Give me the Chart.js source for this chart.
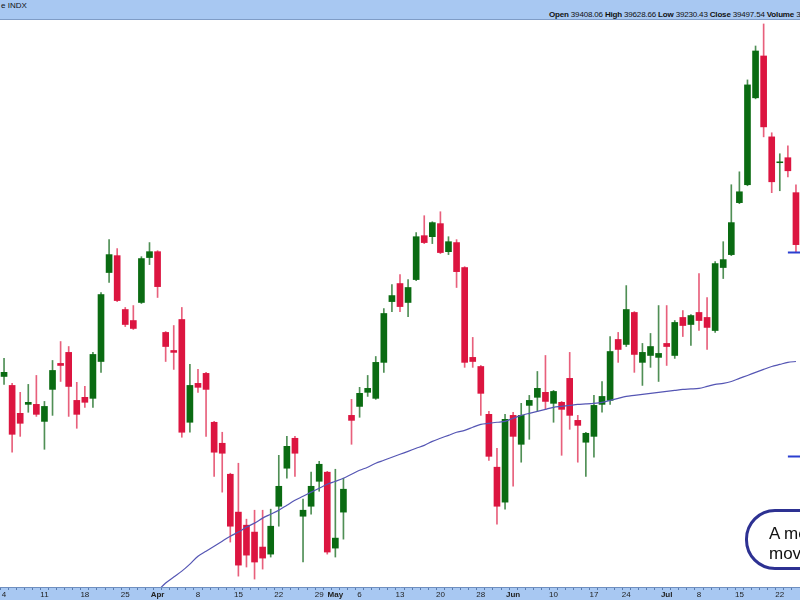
<!DOCTYPE html>
<html>
<head>
<meta charset="utf-8">
<script src="https://cdn.jsdelivr.net/npm/chart.js@4.4.1/dist/chart.umd.min.js"></script>
<style>
  body { margin: 0; background: #fff; overflow: hidden; }
  #wrap { position: relative; width: 800px; height: 600px; overflow: hidden; }
  #head { position: absolute; left: 0; top: 0; width: 800px; height: 19px; background: #a8c8f2;
          border-bottom: 1px solid #7f9cc6; font-family: "Liberation Sans", Arial, sans-serif; font-size: 8px; color: #111; }
  #head .t { position: absolute; left: 1px; top: 1px; }
  #head .q { position: absolute; left: 549px; top: 10px; white-space: nowrap; letter-spacing: -0.17px; }
  #head b { font-weight: bold; }
  #note { position: absolute; left: 745px; top: 509px; width: 160px; height: 61px; border: 3px solid #2d3192;
          border-radius: 30px; background: #fff; font-family: "Liberation Sans", Arial, sans-serif; font-size: 17px;
          line-height: 20px; color: #111; padding: 12px 0 0 21px; box-sizing: border-box; }
</style>
</head>
<body>
<div id="wrap">
  <canvas id="myChart" width="800" height="600"></canvas>
  <div id="head">
    <span class="t">e INDX</span>
    <span class="q"><b>Open</b> 39408.06 <b>High</b> 39628.66 <b>Low</b> 39230.43 <b>Close</b> 39497.54 <b>Volume</b> 3</span>
  </div>
  <div id="note">A medium<br>moving</div>
</div>
<script>
const dates = [
  '2024-03-04','2024-03-05','2024-03-06','2024-03-07','2024-03-08','2024-03-11','2024-03-12','2024-03-13','2024-03-14','2024-03-15',
  '2024-03-18','2024-03-19','2024-03-20','2024-03-21','2024-03-22','2024-03-25','2024-03-26','2024-03-27','2024-03-28',
  '2024-04-01','2024-04-02','2024-04-03','2024-04-04','2024-04-05','2024-04-08','2024-04-09','2024-04-10','2024-04-11','2024-04-12',
  '2024-04-15','2024-04-16','2024-04-17','2024-04-18','2024-04-19','2024-04-22','2024-04-23','2024-04-24','2024-04-25','2024-04-26',
  '2024-04-29','2024-04-30',
  '2024-05-01','2024-05-02','2024-05-03','2024-05-06','2024-05-07','2024-05-08','2024-05-09','2024-05-10','2024-05-13','2024-05-14',
  '2024-05-15','2024-05-16','2024-05-17','2024-05-20','2024-05-21','2024-05-22','2024-05-23','2024-05-24','2024-05-28','2024-05-29',
  '2024-05-30','2024-05-31',
  '2024-06-03','2024-06-04','2024-06-05','2024-06-06','2024-06-07','2024-06-10','2024-06-11','2024-06-12','2024-06-13','2024-06-14',
  '2024-06-17','2024-06-18','2024-06-20','2024-06-21','2024-06-24','2024-06-25','2024-06-26','2024-06-27','2024-06-28',
  '2024-07-01','2024-07-02','2024-07-03','2024-07-05','2024-07-08','2024-07-09','2024-07-10','2024-07-11','2024-07-12','2024-07-15',
  '2024-07-16','2024-07-17','2024-07-18','2024-07-19','2024-07-22','2024-07-23','2024-07-24'
];

const opens = [
  38986,38925,38735,38796,38796,38680,38898,39075,39150,38823,
  38844,38837,39088,39694,39809,39442,39367,39490,39796,39836,
  39286,39163,39374,38674,38939,39007,38674,38531,38320,38062,
  37973,37926,37824,37776,38102,38361,38565,38034,38102,38272,
  38334,37817,38062,38721,38782,38878,38837,39082,39496,39619,
  39490,39646,39945,39938,40027,39836,39898,39728,39116,39054,
  38728,38368,38130,38721,38524,38789,38844,38878,38803,38810,
  38973,38687,38538,38578,38796,38823,39238,39204,39422,39082,
  39129,39116,39211,39129,39388,39340,39422,39388,39299,39728,
  39816,40170,40292,40884,41169,40618,40442,40476,40238
];
const highs = [
  39109,38939,38878,38932,38993,38816,39095,39224,39190,38946,
  38918,39150,39558,39918,39857,39456,39469,39802,39898,39843,
  39292,39333,39456,39068,39034,39014,38680,38606,38327,38395,
  38014,38075,38075,38082,38449,38578,38578,38150,38334,38408,
  38340,38354,38293,38830,38912,38993,39122,39449,39612,39680,
  39646,39966,40081,40040,40108,39938,39918,39734,39252,39061,
  38748,38497,38728,38742,38803,38857,39020,39129,38891,38816,
  39150,38721,38606,38857,38952,39258,39286,39605,39428,39211,
  39279,39469,39469,39367,39435,39408,39687,39524,39768,39904,
  40292,40380,41006,41237,41387,40646,40503,40557,40292
];
const lows = [
  38932,38470,38578,38742,38714,38490,38721,38952,38714,38633,
  38776,38776,39014,39626,39496,39326,39306,39483,39748,39524,
  39088,39034,38572,38606,38878,38578,38306,38198,37858,37626,
  37688,37606,37674,37756,37966,38293,38306,37722,38048,38204,
  37776,37756,37878,38524,38708,38850,38830,39014,39428,39428,
  39394,39639,39891,39891,39823,39816,39592,39048,39048,38721,
  38415,37980,38082,38238,38402,38558,38748,38762,38674,38449,
  38626,38402,38306,38436,38742,38796,39082,39190,39014,38925,
  39048,38952,39061,39109,39258,39197,39299,39170,39286,39653,
  39809,40163,40285,40877,40618,40238,40251,40346,39830
];
const closes = [
  39014,38592,38667,38810,38728,38782,39027,39061,38918,38728,
  38810,39136,39544,39816,39503,39340,39313,39789,39836,39598,
  39190,39150,38606,38925,38912,38898,38470,38463,37966,37701,
  37769,37722,37749,37966,38238,38510,38463,38075,38238,38388,
  37790,37885,38218,38687,38871,38905,39082,39415,39537,39462,
  39592,39938,39898,40034,39830,39904,39700,39082,39088,38871,
  38442,38102,38694,38578,38721,38823,38905,38816,38884,38762,
  38721,38653,38599,38789,38850,39156,39170,39442,39136,39150,
  39190,39143,39190,39354,39333,39401,39367,39320,39755,39782,
  40034,40244,40972,41203,40686,40312,40448,40387,39884
];
// moving average, starts below the visible range in early April
const movAvg = [
  null,null,null,null,null,null,null,null,null,null,
  null,null,null,null,null,null,null,null,null,
  37525,37579,37620,37660,37708,37762,37796,37830,37864,37898,
  37926,37960,37987,38021,38048,38075,38109,38143,38170,38198,
  38225,38252,38272,38293,38320,38347,38368,38395,38415,38436,
  38456,38476,38497,38517,38544,38565,38585,38606,38619,38640,
  38660,38667,38674,38680,38701,38721,38735,38748,38762,38776,
  38782,38789,38796,38799,38803,38810,38823,38837,38850,38857,
  38864,38871,38878,38884,38891,38898,38901,38905,38918,38932,
  38939,38952,38973,38993,39014,39034,39054,39068,39082,39088
];

const labelDates = ['2024-03-04','2024-03-11','2024-03-18','2024-03-25','2024-04-01','2024-04-08','2024-04-15','2024-04-22',
  '2024-04-29','2024-05-01','2024-05-06','2024-05-13','2024-05-20','2024-05-28','2024-06-03','2024-06-10','2024-06-17',
  '2024-06-24','2024-07-01','2024-07-08','2024-07-15','2024-07-22'];
const labelTexts = ['4','11','18','25','Apr','8','15','22','29','May','6','13','20','28','Jun','10','17','24','Jul','8','15','22'];
const monthNames = ['Apr','May','Jun','Jul'];

// short blue level marks at the right edge
const levelLines = [39836, 38442];

const upColor = '#0a6b12';
const downColor = '#dc1540';
const upWick = '#4f8f55';
const downWick = '#e8607c';

let bodyColors = [];
let wickColors = [];
for (var i = 0; i < opens.length; i++) {
    let up = closes[i] >= opens[i];
    bodyColors.push(up ? upColor : downColor);
    wickColors.push(up ? upWick : downWick);
}

const stripPlugin = {
    id: 'strip',
    beforeDraw(chart) {
        const c = chart.ctx;
        const a = chart.chartArea;
        c.save();
        c.fillStyle = '#a8c8f2';
        c.fillRect(0, a.bottom, chart.width, chart.height - a.bottom);
        c.restore();
    },
    afterDraw(chart) {
        const c = chart.ctx;
        const x0 = chart.scales.x.getPixelForValue(97);
        c.save();
        c.strokeStyle = '#2b3fd0';
        c.lineWidth = 2;
        levelLines.forEach(function (v) {
            const y = Math.round(chart.scales.y.getPixelForValue(v)) + 0.5;
            c.beginPath();
            c.moveTo(x0, y);
            c.lineTo(chart.chartArea.right, y);
            c.stroke();
        });
        c.restore();
    }
};

const ctx = document.getElementById('myChart').getContext('2d');
const myChart = new Chart(ctx, {
    data: {
        labels: dates,
        datasets: [{
            type: 'line',
            label: 'MA',
            data: movAvg,
            borderColor: '#5556b4',
            borderWidth: 1.2,
            pointRadius: 0,
            tension: 0.3,
            order: 0
        }, {
            type: 'bar',
            label: 'body',
            data: opens.map((o, i) => [o, closes[i]]),
            backgroundColor: bodyColors,
            barThickness: 6,
            grouped: false,
            borderSkipped: false,
            order: 1
        }, {
            type: 'bar',
            label: 'wick',
            data: lows.map((l, i) => [l, highs[i]]),
            backgroundColor: wickColors,
            barThickness: 1,
            grouped: false,
            order: 2
        }]
    },
    options: {
        responsive: false,
        animation: false,
        layout: { padding: { top: 20, left: 0, right: 0, bottom: 0 } },
        plugins: { legend: { display: false }, tooltip: { enabled: false } },
        scales: {
            x: {
                type: 'category',
                offset: true,
                grid: { display: true, drawOnChartArea: false, drawTicks: true, tickLength: 3, color: '#5a7cb0' },
                border: { display: true, color: '#6f8fc0' },
                ticks: {
                    autoSkip: false,
                    maxRotation: 0,
                    padding: 1,
                    color: '#222',
                    font: function (c) {
                        const lbl = c.tick ? c.tick.label : '';
                        return { family: 'Liberation Sans', size: 8, lineHeight: 1,
                                 weight: monthNames.includes(lbl) ? 'bold' : 'normal' };
                    },
                    callback: function (value, index) {
                        const k = labelDates.indexOf(dates[index]);
                        return k >= 0 ? labelTexts[k] : '';
                    }
                }
            },
            y: {
                display: false,
                min: 37552,
                max: 41414
            }
        }
    },
    plugins: [stripPlugin]
});
</script>
</body>
</html>
